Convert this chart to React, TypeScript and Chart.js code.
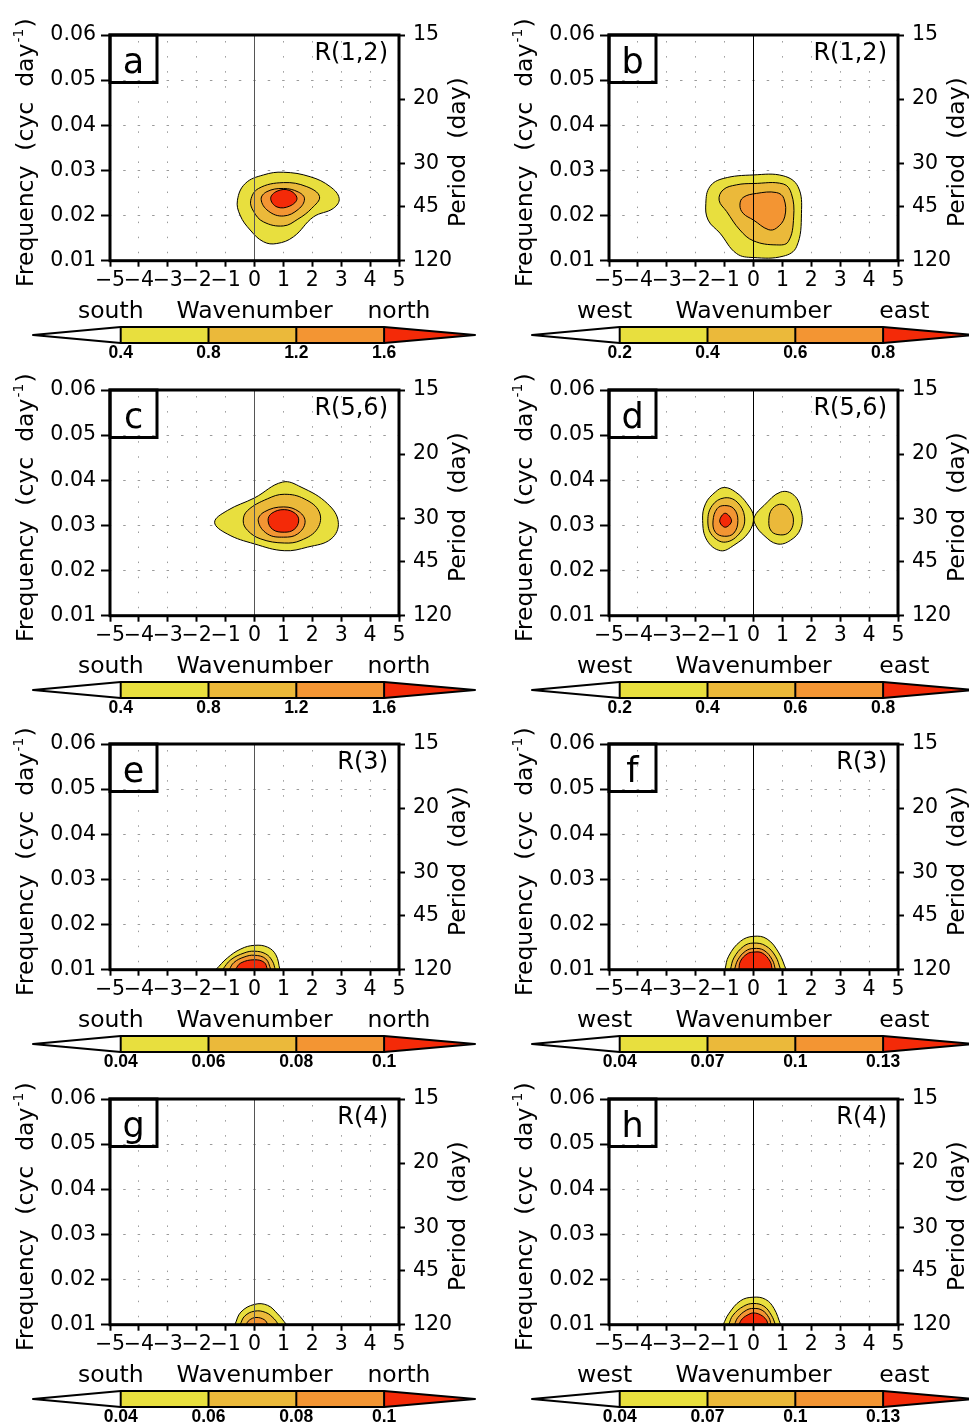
import { useEffect, useRef } from 'react';
import { Chart, registerables } from 'chart.js';

Chart.register(...registerables);
Chart.defaults.font.family = '"DejaVu Sans", sans-serif';
Chart.defaults.color = '#000';

type Pt = [number, number];

// Axis ticks
const wavenumberTicks = [-5, -4, -3, -2, -1, 0, 1, 2, 3, 4, 5];
const frequencyTicks = [0.01, 0.02, 0.03, 0.04, 0.05, 0.06];
const periodTickFreqs = [0.06, 0.0458, 0.0316, 0.022, 0.01];
const periodTickLabels = ['15', '20', '30', '45', '120'];

// Shading levels (colour bar boundaries)
const levelsSN12 = [0.4, 0.8, 1.2, 1.6];
const levelsWE12 = [0.2, 0.4, 0.6, 0.8];
const levelsSN34 = [0.04, 0.06, 0.08, 0.1];
const levelsWE34 = [0.04, 0.07, 0.1, 0.13];
const levelColors = ['#e8df3e', '#ebb93a', '#f39533', '#f42a08'];

// Contour outlines, [wavenumber, frequency]; C1 = lowest level
const aC1: Pt[] = [[-0.59, 0.0234], [-0.32, 0.0271], [0.31, 0.029], [1.0, 0.0296], [1.93, 0.0286], [2.62, 0.0264], [2.93, 0.0238], [2.73, 0.0216], [2.04, 0.0197], [1.35, 0.0153], [0.77, 0.0138], [0.31, 0.0142], [-0.15, 0.0168], [-0.5, 0.0201]];
const aC2: Pt[] = [[-0.13, 0.0234], [0.14, 0.026], [1.0, 0.0273], [1.81, 0.0264], [2.25, 0.0242], [1.98, 0.0216], [1.5, 0.0192], [1.0, 0.0177], [0.31, 0.0186], [-0.03, 0.0209]];
const aC3: Pt[] = [[0.23, 0.0236], [0.43, 0.0253], [1.0, 0.026], [1.52, 0.0252], [1.73, 0.0237], [1.52, 0.0214], [1.0, 0.0199], [0.48, 0.021]];
const aC4: Pt[] = [[0.56, 0.0238], [0.78, 0.0254], [1.2, 0.0256], [1.47, 0.0238], [1.22, 0.0221], [0.78, 0.0219]];

const bC1: Pt[] = [[-1.65, 0.0227], [-1.51, 0.0264], [-1.05, 0.0282], [0, 0.029], [1.03, 0.0288], [1.54, 0.0264], [1.66, 0.0205], [1.49, 0.0131], [1.03, 0.011], [0, 0.0107], [-0.59, 0.0116], [-1.16, 0.0161], [-1.57, 0.019]];
const bC2: Pt[] = [[-1.19, 0.0234], [-1.05, 0.0257], [-0.59, 0.0268], [0, 0.0271], [1.03, 0.027], [1.31, 0.0249], [1.39, 0.0197], [1.2, 0.0142], [0.79, 0.0135], [0, 0.0144], [-0.47, 0.0168], [-0.93, 0.0209]];
const bC3: Pt[] = [[-0.47, 0.0223], [-0.36, 0.024], [0.1, 0.0249], [0.79, 0.0251], [1.05, 0.0238], [1.08, 0.0197], [0.79, 0.0172], [0.51, 0.0169], [0, 0.019], [-0.36, 0.0205]];

const cC1: Pt[] = [[-1.38, 0.0307], [-0.94, 0.0333], [0, 0.0361], [0.97, 0.0396], [1.61, 0.0385], [2.53, 0.0348], [2.9, 0.0307], [2.65, 0.027], [1.84, 0.0252], [1.03, 0.0244], [0, 0.0259], [-0.94, 0.0281]];
const cC2: Pt[] = [[-0.39, 0.031], [-0.24, 0.0333], [0.45, 0.0359], [1.03, 0.0369], [1.72, 0.0359], [2.24, 0.033], [2.18, 0.0293], [1.61, 0.0267], [1.03, 0.0261], [0.22, 0.027], [-0.24, 0.0289]];
const cC3: Pt[] = [[0.13, 0.031], [0.34, 0.033], [1.01, 0.0341], [1.55, 0.033], [1.75, 0.0307], [1.49, 0.0281], [1.01, 0.0274], [0.45, 0.0281]];
const cC4: Pt[] = [[0.47, 0.0311], [0.6, 0.0327], [1.03, 0.0335], [1.42, 0.0326], [1.53, 0.031], [1.37, 0.0291], [1.03, 0.0285], [0.63, 0.0291]];

const dWestC1: Pt[] = [[-1.76, 0.0311], [-1.66, 0.0348], [-1.32, 0.0374], [-1.01, 0.0384], [-0.62, 0.0374], [-0.22, 0.0348], [0, 0.0319], [-0.16, 0.0285], [-0.68, 0.0256], [-1.14, 0.0244], [-1.61, 0.0267]];
const dWestC2: Pt[] = [[-1.58, 0.031], [-1.43, 0.0344], [-1.01, 0.0361], [-0.57, 0.0352], [-0.31, 0.0319], [-0.45, 0.0285], [-0.97, 0.0263], [-1.43, 0.0278]];
const dWestC3: Pt[] = [[-1.4, 0.031], [-1.26, 0.0337], [-1.01, 0.0344], [-0.68, 0.0337], [-0.54, 0.0311], [-0.68, 0.0283], [-1.01, 0.0276], [-1.32, 0.0285]];
const dWestC4: Pt[] = [[-1.17, 0.031], [-0.98, 0.0327], [-0.76, 0.031], [-0.98, 0.0296]];
const dEastC1: Pt[] = [[0.03, 0.0319], [0.36, 0.0344], [0.94, 0.0374], [1.4, 0.0367], [1.65, 0.0333], [1.63, 0.0293], [1.28, 0.0267], [0.82, 0.0259], [0.36, 0.0278], [0.07, 0.0301]];
const dEastC2: Pt[] = [[0.53, 0.0311], [0.65, 0.0337], [0.99, 0.0347], [1.28, 0.0333], [1.38, 0.0307], [1.23, 0.0285], [0.94, 0.0279], [0.62, 0.0287]];

const eC1: Pt[] = [[-1.34, 0.01], [-0.94, 0.0126], [-0.47, 0.0146], [0, 0.0154], [0.45, 0.015], [0.74, 0.0133], [0.88, 0.01]];
const eC2: Pt[] = [[-1.11, 0.01], [-0.82, 0.0122], [-0.36, 0.0137], [0, 0.0141], [0.39, 0.0135], [0.62, 0.0119], [0.72, 0.01]];
const eC3: Pt[] = [[-0.88, 0.01], [-0.71, 0.0116], [-0.36, 0.0128], [0, 0.0132], [0.39, 0.0124], [0.57, 0.01]];
const eC4: Pt[] = [[-0.67, 0.01], [-0.47, 0.0115], [0, 0.0122], [0.34, 0.0116], [0.45, 0.01]];

const fC1: Pt[] = [[-0.99, 0.01], [-0.86, 0.013], [-0.45, 0.0163], [0, 0.0174], [0.47, 0.0168], [0.88, 0.0137], [1.13, 0.01]];
const fC2: Pt[] = [[-0.8, 0.01], [-0.68, 0.0126], [-0.34, 0.0152], [0, 0.0159], [0.42, 0.0153], [0.76, 0.013], [0.94, 0.01]];
const fC3: Pt[] = [[-0.66, 0.01], [-0.54, 0.0122], [-0.28, 0.0141], [0, 0.0147], [0.36, 0.0143], [0.65, 0.0122], [0.76, 0.01]];
const fC4: Pt[] = [[-0.51, 0.01], [-0.45, 0.0119], [-0.22, 0.0135], [0, 0.0139], [0.3, 0.0137], [0.57, 0.0119], [0.65, 0.01]];

const gC1: Pt[] = [[-0.68, 0.01], [-0.47, 0.0128], [0, 0.0145], [0.45, 0.0143], [0.8, 0.0124], [1.11, 0.01]];
const gC2: Pt[] = [[-0.5, 0.01], [-0.34, 0.0119], [0, 0.013], [0.39, 0.0127], [0.68, 0.0113], [0.83, 0.01]];
const gC3: Pt[] = [[-0.3, 0.01], [-0.18, 0.011], [0.05, 0.0116], [0.34, 0.0111], [0.47, 0.01]];

const hC1: Pt[] = [[-1.05, 0.01], [-0.86, 0.0124], [-0.45, 0.0153], [0, 0.0161], [0.42, 0.0156], [0.71, 0.0136], [0.94, 0.01]];
const hC2: Pt[] = [[-0.86, 0.01], [-0.71, 0.0121], [-0.34, 0.0141], [0, 0.0147], [0.36, 0.0141], [0.62, 0.0121], [0.76, 0.01]];
const hC3: Pt[] = [[-0.66, 0.01], [-0.54, 0.0116], [-0.25, 0.0132], [0, 0.0136], [0.3, 0.0132], [0.53, 0.0116], [0.61, 0.01]];
const hC4: Pt[] = [[-0.51, 0.01], [-0.39, 0.0113], [-0.16, 0.0123], [0, 0.0126], [0.24, 0.0122], [0.44, 0.0111], [0.5, 0.01]];

interface Contour { level: number; closed: boolean; pts: Pt[] }
interface Panel {
  letter: string;
  mode: string;
  dirs: [string, string];
  levels: number[];
  zeroColor: string;
  contours: Contour[];
}

const ring = (level: number, pts: Pt[]): Contour => ({ level, closed: true, pts });
const dome = (level: number, pts: Pt[]): Contour => ({ level, closed: false, pts });

const panels: Panel[] = [
  { letter: 'a', mode: 'R(1,2)', dirs: ['south', 'north'], levels: levelsSN12, zeroColor: '#555',
    contours: [ring(0, aC1), ring(1, aC2), ring(2, aC3), ring(3, aC4)] },
  { letter: 'b', mode: 'R(1,2)', dirs: ['west', 'east'], levels: levelsWE12, zeroColor: '#000',
    contours: [ring(0, bC1), ring(1, bC2), ring(2, bC3)] },
  { letter: 'c', mode: 'R(5,6)', dirs: ['south', 'north'], levels: levelsSN12, zeroColor: '#555',
    contours: [ring(0, cC1), ring(1, cC2), ring(2, cC3), ring(3, cC4)] },
  { letter: 'd', mode: 'R(5,6)', dirs: ['west', 'east'], levels: levelsWE12, zeroColor: '#000',
    contours: [ring(0, dWestC1), ring(1, dWestC2), ring(2, dWestC3), ring(3, dWestC4), ring(0, dEastC1), ring(1, dEastC2)] },
  { letter: 'e', mode: 'R(3)', dirs: ['south', 'north'], levels: levelsSN34, zeroColor: '#555',
    contours: [dome(0, eC1), dome(1, eC2), dome(2, eC3), dome(3, eC4)] },
  { letter: 'f', mode: 'R(3)', dirs: ['west', 'east'], levels: levelsWE34, zeroColor: '#000',
    contours: [dome(0, fC1), dome(1, fC2), dome(2, fC3), dome(3, fC4)] },
  { letter: 'g', mode: 'R(4)', dirs: ['south', 'north'], levels: levelsSN34, zeroColor: '#555',
    contours: [dome(0, gC1), dome(1, gC2), dome(2, gC3)] },
  { letter: 'h', mode: 'R(4)', dirs: ['west', 'east'], levels: levelsWE34, zeroColor: '#000',
    contours: [dome(0, hC1), dome(1, hC2), dome(2, hC3), dome(3, hC4)] },
];

const CANVAS_W = 490;
const CANVAS_H = 366;
const PLOT_BOTTOM = 260.7;
const PANEL_TOPS = [0, 355, 709, 1064];
const PANEL_LEFTS = [0, 499];
const FONT = '"DejaVu Sans", sans-serif';
const BAR_FONT = '"Liberation Sans", Arial, sans-serif';

const fmtWave = (v: number) => (v < 0 ? '\u2212' + Math.abs(v) : String(v));

function drawColorbar(ctx: CanvasRenderingContext2D, levels: number[]) {
  const yTop = 327, yBot = 343, yMid = 335;
  const tipL = 33, tipR = 475;
  const x0 = 120.7, step = 87.8;
  const xs = levels.map((_, i) => x0 + i * step);
  ctx.save();
  ctx.lineJoin = 'round';
  // open triangle below the lowest level
  ctx.beginPath();
  ctx.moveTo(tipL, yMid);
  ctx.lineTo(xs[0], yTop);
  ctx.lineTo(xs[0], yBot);
  ctx.closePath();
  ctx.fillStyle = '#fff';
  ctx.fill();
  for (let i = 0; i < levels.length - 1; i++) {
    ctx.fillStyle = levelColors[i];
    ctx.fillRect(xs[i], yTop, xs[i + 1] - xs[i], yBot - yTop);
  }
  // triangle above the top level
  const last = xs[xs.length - 1];
  ctx.beginPath();
  ctx.moveTo(last, yTop);
  ctx.lineTo(tipR, yMid);
  ctx.lineTo(last, yBot);
  ctx.closePath();
  ctx.fillStyle = levelColors[levelColors.length - 1];
  ctx.fill();
  ctx.strokeStyle = '#000';
  ctx.lineWidth = 2;
  ctx.beginPath();
  ctx.moveTo(tipL, yMid);
  ctx.lineTo(xs[0], yTop);
  ctx.lineTo(last, yTop);
  ctx.lineTo(tipR, yMid);
  ctx.lineTo(last, yBot);
  ctx.lineTo(xs[0], yBot);
  ctx.closePath();
  ctx.stroke();
  for (const x of xs) {
    ctx.beginPath();
    ctx.moveTo(x, yTop);
    ctx.lineTo(x, yBot);
    ctx.stroke();
  }
  ctx.fillStyle = '#000';
  ctx.font = `bold 17.5px ${BAR_FONT}`;
  ctx.textAlign = 'center';
  ctx.textBaseline = 'top';
  levels.forEach((lv, i) => ctx.fillText(String(lv), xs[i], 344.5));
  ctx.restore();
}

function makeDecor(p: Panel) {
  return {
    id: 'panelDecor',
    afterDatasetUpdate(chart: any, args: any) {
      const ds = chart.data.datasets[args.index];
      if (ds && ds.closedLoop && args.meta.dataset) {
        args.meta.dataset._loop = true;
        args.meta.dataset._fullLoop = true;
      }
    },
    afterDatasetsDraw(chart: any) {
      const { ctx, chartArea: a } = chart;
      ctx.save();
      ctx.strokeStyle = '#000';
      ctx.lineWidth = 3;
      ctx.strokeRect(a.left, a.top, a.right - a.left, a.bottom - a.top);
      ctx.strokeRect(a.left, a.top, 47, 47.5);
      ctx.fillStyle = '#000';
      ctx.textBaseline = 'alphabetic';
      ctx.font = `35px ${FONT}`;
      ctx.textAlign = 'center';
      ctx.fillText(p.letter, a.left + 23.5, a.top + 38);
      ctx.font = `24px ${FONT}`;
      ctx.textAlign = 'right';
      ctx.fillText(p.mode, a.right - 11, a.top + 25);
      ctx.restore();
    },
    afterDraw(chart: any) {
      const ctx: CanvasRenderingContext2D = chart.ctx;
      ctx.save();
      ctx.fillStyle = '#000';
      ctx.textBaseline = 'alphabetic';
      // left axis title
      ctx.save();
      ctx.translate(33, 287);
      ctx.rotate(-Math.PI / 2);
      ctx.font = `23.5px ${FONT}`;
      ctx.textAlign = 'left';
      const main = 'Frequency  (cyc  day';
      ctx.fillText(main, 0, 0);
      const w = ctx.measureText(main).width;
      ctx.font = `14px ${FONT}`;
      ctx.fillText('-1', w + 1, -10);
      const ws = ctx.measureText('-1').width;
      ctx.font = `23.5px ${FONT}`;
      ctx.fillText(')', w + ws + 2, 0);
      ctx.restore();
      // right axis title
      ctx.save();
      ctx.translate(465, 227);
      ctx.rotate(-Math.PI / 2);
      ctx.font = `23.5px ${FONT}`;
      ctx.textAlign = 'left';
      ctx.fillText('Period  (day)', 0, 0);
      ctx.restore();
      // wavenumber title with direction words
      ctx.font = `23.5px ${FONT}`;
      ctx.textAlign = 'left';
      ctx.fillText(p.dirs[0], 78, 318);
      ctx.textAlign = 'center';
      ctx.fillText('Wavenumber', 254.5, 318);
      ctx.textAlign = 'right';
      ctx.fillText(p.dirs[1], 430.5, 318);
      ctx.restore();
      drawColorbar(ctx, p.levels);
    },
  };
}

function PanelChart({ panel, left, top }: { panel: Panel; left: number; top: number }) {
  const ref = useRef<HTMLCanvasElement>(null);
  useEffect(() => {
    const datasets: any[] = panel.contours.map((c) => ({
      data: c.pts.map(([x, y]) => ({ x, y })),
      borderColor: '#000',
      borderWidth: 1,
      backgroundColor: levelColors[c.level],
      fill: 'shape',
      tension: 0.4,
      pointRadius: 0,
      spanGaps: true,
      order: 10 - c.level,
      closedLoop: c.closed,
    }));
    datasets.push({
      data: [{ x: 0, y: frequencyTicks[0] }, { x: 0, y: frequencyTicks[frequencyTicks.length - 1] }],
      borderColor: panel.zeroColor,
      borderWidth: 1,
      fill: false,
      pointRadius: 0,
      tension: 0,
      order: -1,
    });
    const gridGray = '#9a9a9a';
    const tickFont = { size: 20.5 };
    const chart = new Chart(ref.current!, {
      type: 'line',
      data: { datasets },
      options: {
        responsive: false,
        animation: false,
        events: [],
        layout: { padding: { top: 35, left: 0, right: 0, bottom: 0 } },
        plugins: { legend: { display: false }, tooltip: { enabled: false } },
        scales: {
          x: {
            type: 'linear',
            position: 'bottom',
            min: -5,
            max: 5,
            afterBuildTicks: (s: any) => { s.ticks = wavenumberTicks.map((v) => ({ value: v })); },
            afterFit: (s: any) => { s.height = CANVAS_H - PLOT_BOTTOM; },
            ticks: { autoSkip: false, maxRotation: 0, padding: 2, color: '#000', font: tickFont, callback: (v: any) => fmtWave(Number(v)) },
            grid: {
              color: (c: any) => (c.tick && [-5, 0, 5].includes(c.tick.value) ? 'rgba(0,0,0,0)' : gridGray),
              lineWidth: 1,
              tickColor: '#000',
              tickWidth: 2,
              tickLength: 6,
              tickBorderDash: [],
            },
            border: { display: false, dash: [1.5, 13.55], dashOffset: 9 },
          },
          y: {
            type: 'linear',
            position: 'left',
            min: 0.01,
            max: 0.06,
            afterBuildTicks: (s: any) => { s.ticks = frequencyTicks.map((v) => ({ value: v })); },
            afterFit: (s: any) => { s.width = 110; },
            ticks: { padding: 5, color: '#000', font: tickFont, callback: (v: any) => Number(v).toFixed(2) },
            grid: {
              color: (c: any) => (c.tick && (c.tick.value <= 0.0101 || c.tick.value >= 0.0599) ? 'rgba(0,0,0,0)' : gridGray),
              lineWidth: 1,
              tickColor: '#000',
              tickWidth: 2,
              tickLength: 9,
              tickBorderDash: [],
            },
            border: { display: false, dash: [2.5, 11.95], dashOffset: 1.25 },
          },
          y2: {
            type: 'linear',
            position: 'right',
            min: 0.01,
            max: 0.06,
            afterBuildTicks: (s: any) => { s.ticks = periodTickFreqs.map((v) => ({ value: v })); },
            afterFit: (s: any) => { s.width = 91; },
            ticks: { padding: 8, color: '#000', font: tickFont, callback: (_v: any, i: number) => periodTickLabels[i] },
            grid: { drawOnChartArea: false, tickColor: '#000', tickWidth: 2, tickLength: 6 },
            border: { display: false },
          },
        },
      } as any,
      plugins: [makeDecor(panel) as any],
    });
    return () => chart.destroy();
  }, [panel]);
  return (
    <canvas
      ref={ref}
      width={CANVAS_W}
      height={CANVAS_H}
      style={{ position: 'absolute', left, top, width: CANVAS_W, height: CANVAS_H }}
    />
  );
}

export default function App() {
  return (
    <div style={{ position: 'absolute', left: 0, top: 0, width: 969, height: 1425, overflow: 'hidden', background: '#fff' }}>
      {panels.map((p, i) => (
        <PanelChart key={p.letter} panel={p} left={PANEL_LEFTS[i % 2]} top={PANEL_TOPS[Math.floor(i / 2)]} />
      ))}
    </div>
  );
}
